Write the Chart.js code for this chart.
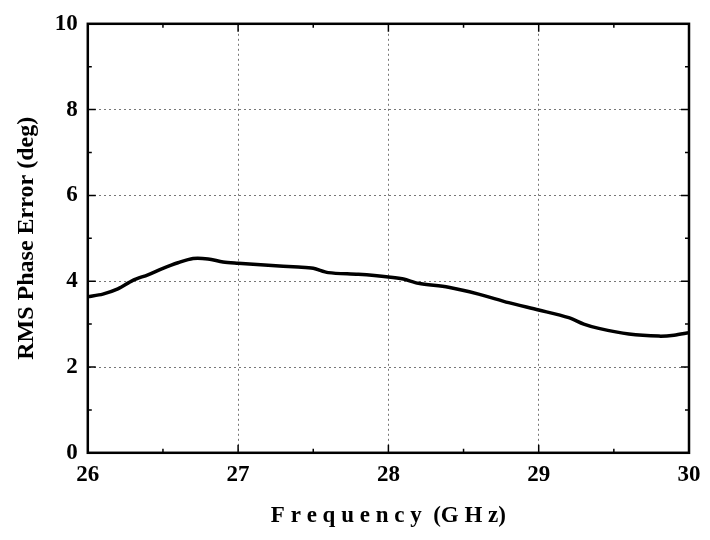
<!DOCTYPE html>
<html><head><script src="https://cdn.jsdelivr.net/npm/chart.js@4/dist/chart.umd.min.js"></script>
<style>body{margin:0;background:#fff}#w{width:710px;height:540px}</style></head>
<body><div id="w"><canvas id="c"></canvas></div>
<script>
const freq=[26.0,26.1,26.2,26.3,26.4,26.5,26.6,26.7,26.8,26.9,27.0,27.2,27.4,27.5,27.6,27.8,28.0,28.1,28.2,28.4,28.6,28.8,29.0,29.2,29.3,29.4,29.6,29.8,29.9,30.0];
const rms=[3.64,3.7,3.82,4.02,4.15,4.3,4.43,4.53,4.52,4.45,4.42,4.37,4.33,4.3,4.2,4.16,4.1,4.05,3.95,3.86,3.7,3.5,3.33,3.15,3.0,2.9,2.77,2.72,2.74,2.8];
const xTicks=[26,27,28,29,30], yTicks=[0,2,4,6,8,10];
const F='"Liberation Serif", "Times New Roman", serif';
new Chart(document.getElementById('c'),{type:'line',
data:{datasets:[{data:freq.map((f,i)=>({x:f,y:rms[i]})),borderColor:'#000',borderWidth:3.5,pointRadius:0,tension:0.3}]},
options:{responsive:true,maintainAspectRatio:false,animation:false,
layout:{padding:{top:6,right:21,left:8,bottom:6}},
plugins:{legend:{display:false},tooltip:{enabled:false}},
scales:{
x:{type:'linear',min:26,max:30,afterBuildTicks:a=>{a.ticks=xTicks.map(v=>({value:v}))},
 border:{display:true,color:'#000',width:2,dash:[2,3]},
 grid:{color:'#777',lineWidth:1,drawTicks:false},
 ticks:{color:'#000',font:{family:F,size:23,weight:'bold'},padding:8},
 title:{display:true,text:'F r e q u e n c y  (G H z)',color:'#000',font:{family:F,size:23,weight:'bold'},padding:{top:6}}},
y:{min:0,max:10,afterBuildTicks:a=>{a.ticks=yTicks.map(v=>({value:v}))},
 border:{display:true,color:'#000',width:2,dash:[2,3]},
 grid:{color:'#777',lineWidth:1,drawTicks:false},
 ticks:{color:'#000',font:{family:F,size:23,weight:'bold'},padding:10},
 title:{display:true,text:'RMS Phase Error (deg)',color:'#000',font:{family:F,size:24,weight:'bold'}}}}},
plugins:[{id:'box',afterDraw(c){const a=c.chartArea,x=c.ctx;x.save();x.strokeStyle='#000';x.lineWidth=2.5;x.strokeRect(a.left,a.top,a.width,a.height);
x.lineWidth=1.5;const sx=c.scales.x,sy=c.scales.y;
for(let v=26;v<=30.001;v+=0.5){const p=sx.getPixelForValue(v),l=(Math.abs(v-Math.round(v))<0.01)?8:4;x.beginPath();x.moveTo(p,a.bottom);x.lineTo(p,a.bottom-l);x.moveTo(p,a.top);x.lineTo(p,a.top+l);x.stroke();}
for(let v=0;v<=10;v+=1){const p=sy.getPixelForValue(v),l=v%2==0?8:4;x.beginPath();x.moveTo(a.left,p);x.lineTo(a.left+l,p);x.moveTo(a.right,p);x.lineTo(a.right-l,p);x.stroke();}
x.restore();}}]});
</script></body></html>
